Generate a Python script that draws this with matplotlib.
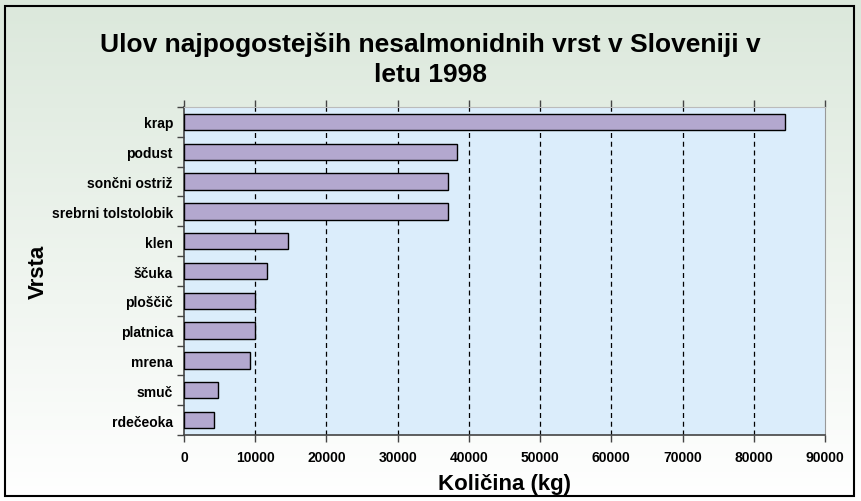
import numpy as np
import matplotlib
matplotlib.use("Agg")
import matplotlib.pyplot as plt
from matplotlib.patches import Rectangle

# catch per species, top to bottom as in the chart
species = ["krap", "podust", "sončni ostriž", "srebrni tolstolobik", "klen",
           "ščuka", "ploščič", "platnica", "mrena", "smuč", "rdečeoka"]
catch_kg = [84400, 38300, 37100, 37000, 14600, 11700, 10000, 9900, 9300, 4800, 4200]
xticks = [0, 10000, 20000, 30000, 40000, 50000, 60000, 70000, 80000, 90000]

plt.rcParams['font.family'] = ['Liberation Sans', 'DejaVu Sans']

fig = plt.figure(figsize=(8.61, 5.02), dpi=100)

# gradient background (light green on top fading to white)
bg = fig.add_axes([0, 0, 1, 1], zorder=-10)
grad = np.linspace(0, 1, 256).reshape(-1, 1)
top = np.array([0.86, 0.91, 0.86])
bot = np.array([1.0, 1.0, 1.0])
img = top + (bot - top) * grad[:, :, None]
bg.imshow(img, aspect='auto', extent=[0, 1, 0, 1])
bg.set_axis_off()
fig.patches.append(Rectangle((5 / 861, 5 / 502), 849 / 861, 490 / 502, transform=fig.transFigure,
                             fill=False, edgecolor='black', linewidth=1.5))

ax = fig.add_axes([184 / 861, 1 - 436 / 502, 641 / 861, 328 / 502])
ax.set_facecolor('#dbedfb')

y = np.arange(len(species))[::-1]
ax.barh(y, catch_kg, height=0.55, color='#b3a8cf', edgecolor='black', linewidth=1.0, zorder=3)

ax.set_xlim(0, 90000)
ax.set_ylim(-0.5, len(species) - 0.5)
ax.set_xticks(xticks)
ax.set_xticklabels([str(v) for v in xticks], fontsize=10, fontweight='bold')
ax.set_yticks(y)
ax.set_yticklabels(species, fontsize=10, fontweight='bold')
ax.set_yticks(np.arange(-0.5, len(species)), minor=True)
ax.tick_params(axis='y', which='major', length=0, pad=8)
ax.tick_params(axis='y', which='minor', length=5, width=1, color='#444444')
ax.tick_params(axis='x', which='major', length=5, width=1, color='#444444', pad=6,
               top=True)

for v in xticks[1:-1]:
    ax.axvline(v, color='black', linestyle=(0, (4, 3)), linewidth=0.9, zorder=1)

for s in ['left', 'bottom']:
    ax.spines[s].set_color('#444444')
    ax.spines[s].set_linewidth(1.2)
ax.spines['top'].set_color('#bbbbbb')
ax.spines['right'].set_color('#999999')
ax.spines['right'].set_linestyle((0, (3, 1)))

ax.set_xlabel("Količina (kg)", fontsize=16, fontweight='bold', va='center')
ax.xaxis.set_label_coords(0.5, -0.149)
ax.set_ylabel("Vrsta", fontsize=16, fontweight='bold', va='center')
ax.yaxis.set_label_coords(-0.228, 0.5)

fig.text(0.5, 1 - 60 / 502, "Ulov najpogostejših nesalmonidnih vrst v Sloveniji v\nletu 1998",
         ha='center', va='center', fontsize=19, fontweight='bold', linespacing=1.3)

fig.savefig("out.png", dpi=100)
